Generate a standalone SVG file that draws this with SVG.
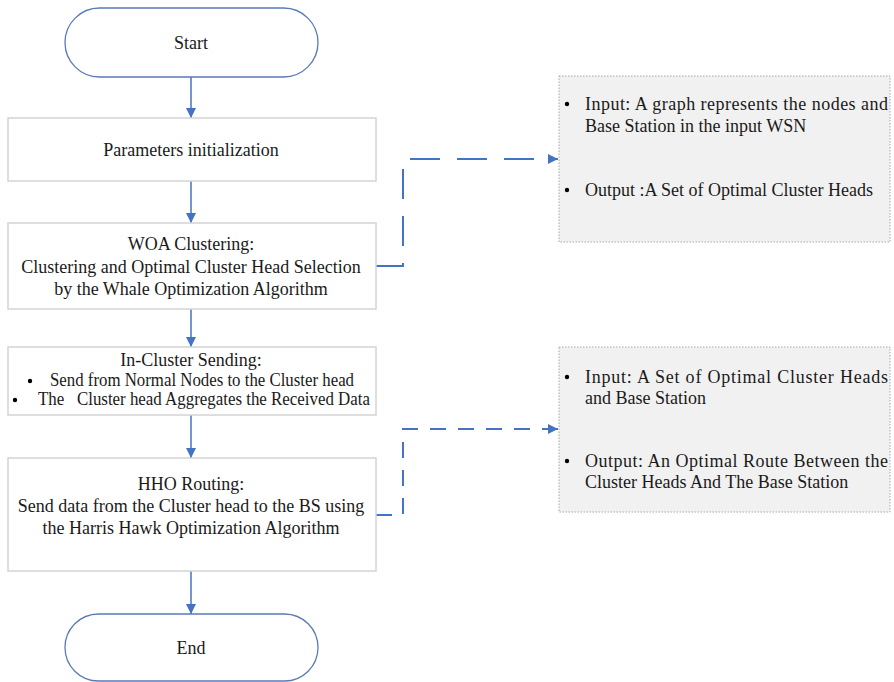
<svg xmlns="http://www.w3.org/2000/svg" width="894" height="682" viewBox="0 0 894 682">
<style>
text{font-family:"Liberation Serif","Times New Roman",serif;fill:#1a1a1a;font-size:18px}
.c{text-anchor:middle}
.term{fill:#fff;stroke:#5a7ab8;stroke-width:1.3}
.box{fill:#fff;stroke:#d4d4d4;stroke-width:1.5}
.note{fill:#f1f1f1;stroke:#a8a8a8;stroke-width:1;stroke-dasharray:1.5 1.5}
.arr{stroke:#4472c4;stroke-width:1.5;fill:none}
.d1{stroke:#4472c4;stroke-width:2;fill:none;stroke-dasharray:30 17}
.d2{stroke:#4472c4;stroke-width:2;fill:none;stroke-dasharray:16 12}
.dot{fill:#000}
.big{font-size:18px}
</style>
<defs>
<marker id="ah" viewBox="0 0 10 10" refX="10" refY="5" markerWidth="10" markerHeight="10" markerUnits="userSpaceOnUse" orient="auto">
<path d="M0,0 L10,5 L0,10 z" fill="#4472c4"/>
</marker>
</defs>

<g id="connectors">
<line class="arr" x1="191" y1="77" x2="191" y2="118" marker-end="url(#ah)"/>
<line class="arr" x1="191" y1="181" x2="191" y2="223" marker-end="url(#ah)"/>
<line class="arr" x1="191" y1="309" x2="191" y2="347" marker-end="url(#ah)"/>
<line class="arr" x1="191" y1="415" x2="191" y2="458" marker-end="url(#ah)"/>
<line class="arr" x1="191" y1="571" x2="191" y2="614" marker-end="url(#ah)"/>
<path class="d1" d="M376,266 L403,266 L403,159 L558,159" marker-end="url(#ah)"/>
<path class="d2" d="M376,515 L403,515 L403,429 L558,429" marker-end="url(#ah)"/>
</g>

<g id="start">
<rect class="term" x="65" y="8" width="253" height="69" rx="34.5"/>
<text class="c" x="191" y="49">Start</text>
</g>

<g id="params">
<rect class="box" x="8" y="118" width="368" height="63"/>
<text class="c" x="191" y="156">Parameters initialization</text>
</g>

<g id="woa">
<rect class="box" x="8" y="223" width="368" height="86"/>
<text class="c big" x="191" y="250">WOA Clustering:</text>
<text class="c big" x="191" y="273">Clustering and Optimal Cluster Head Selection</text>
<text class="c big" x="191" y="295">by the Whale Optimization Algorithm</text>
</g>

<g id="incluster">
<rect class="box" x="8" y="347" width="368" height="68"/>
<text class="c" x="191" y="366" font-size="15.5">In-Cluster Sending:</text>
<circle class="dot" cx="30" cy="381" r="2.2"/>
<text x="50" y="386" font-size="16" textLength="304" lengthAdjust="spacingAndGlyphs">Send from Normal Nodes to the Cluster head</text>
<circle class="dot" cx="15" cy="400" r="2.2"/>
<text x="38" y="405" font-size="16" textLength="332" lengthAdjust="spacingAndGlyphs" xml:space="preserve">The   Cluster head Aggregates the Received Data</text>
</g>

<g id="hho">
<rect class="box" x="8" y="458" width="368" height="113"/>
<text class="c big" x="191" y="490">HHO Routing:</text>
<text class="c big" x="191" y="512">Send data from the Cluster head to the BS using</text>
<text class="c big" x="191" y="534">the Harris Hawk Optimization Algorithm</text>
</g>

<g id="end">
<rect class="term" x="65" y="614" width="253" height="67" rx="33.5"/>
<text class="c" x="191" y="654">End</text>
</g>

<g id="note1">
<rect class="note" x="559" y="76" width="331" height="166"/>
<circle class="dot" cx="567" cy="104" r="2.2"/>
<text x="585" y="110" textLength="303" lengthAdjust="spacing">Input: A graph represents the nodes and</text>
<text x="585" y="132">Base Station in the input WSN</text>
<circle class="dot" cx="567" cy="190" r="2.2"/>
<text x="585" y="196">Output :A Set of Optimal Cluster Heads</text>
</g>

<g id="note2">
<rect class="note" x="559" y="347" width="331" height="165"/>
<circle class="dot" cx="567" cy="377" r="2.2"/>
<text x="585" y="383" textLength="303" lengthAdjust="spacing">Input: A Set of Optimal Cluster Heads</text>
<text x="585" y="404">and Base Station</text>
<circle class="dot" cx="567" cy="461" r="2.2"/>
<text x="585" y="467" textLength="303" lengthAdjust="spacing">Output: An Optimal Route Between the</text>
<text x="585" y="488">Cluster Heads And The Base Station</text>
</g>
</svg>
